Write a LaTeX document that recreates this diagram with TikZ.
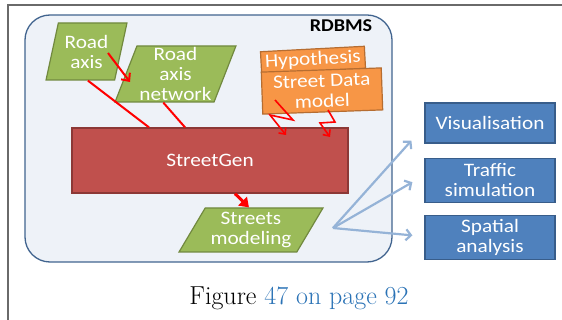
\documentclass[tikz,border=0pt]{standalone}
\usepackage{fontspec}
\setsansfont{Carlito}[FakeStretch=1.12]
\usetikzlibrary{shapes.geometric,arrows.meta,positioning,calc}
\definecolor{dbfill}{HTML}{EEF2F8}
\definecolor{dbline}{HTML}{41648F}
\definecolor{datagreen}{HTML}{9BBB59}
\definecolor{dataline}{HTML}{71893F}
\definecolor{genred}{HTML}{C0504D}
\definecolor{genline}{HTML}{8C3836}
\definecolor{hypor}{HTML}{F79646}
\definecolor{hypline}{HTML}{B66D31}
\definecolor{appblue}{HTML}{4F81BD}
\definecolor{appline}{HTML}{385D8A}
\definecolor{fanblue}{HTML}{95B3D7}
\definecolor{linkblue}{HTML}{2B73B6}
\definecolor{framegray}{HTML}{6A6A6A}

\begin{document}
\begin{tikzpicture}[x=1pt,y=-1pt,
    font=\sffamily\fontsize{19}{20}\selectfont,
    dbbox/.style={draw=dbline,fill=dbfill,line width=1.3pt,rounded corners=25pt},
    data/.style={trapezium,trapezium stretches=true,draw=dataline,fill=datagreen,line width=1.2pt,text=white,align=center,inner sep=0pt},
    gen/.style={draw=genline,fill=genred,line width=1.2pt,text=white},
    hyp/.style={draw=hypline,fill=hypor,line width=1.2pt,text=white,align=center,inner sep=0pt},
    app/.style={draw=appline,fill=appblue,line width=1.2pt,text=white,align=center,minimum width=130pt,inner sep=0pt},
    redline/.style={red,line width=2pt},
    zig/.style={red,line width=1.6pt,-{Straight Barb[length=5pt,width=9pt]}},
    fanarr/.style={fanblue,line width=2.2pt,-{Straight Barb[length=5pt,width=11pt]}}]
    \useasboundingbox (0,0) rectangle (562,320);
    \draw[framegray,line width=1.5pt] (8,320) -- (8,5) -- (562,5);
    \node[dbbox,minimum width=367pt,minimum height=247pt] (db) at (208.5,138.5) {};
    \node[font=\sffamily\bfseries\fontsize{18}{18}\selectfont] (dblabel) at (341,26) {RDBMS};
    % sources
    \node[data,trapezium left angle=74,trapezium right angle=106,minimum width=81pt,minimum height=57pt] (raxis) at (86.5,51.5) {Road\\axis};
    \node[data,trapezium left angle=69,trapezium right angle=111,minimum width=121pt,minimum height=56pt] (net) at (175.5,74) {Road\\axis\\network};
    \node[hyp,rotate=3,minimum width=104pt,minimum height=22pt] (hyp) at (313,60) {Hypothesis};
    \node[hyp,rotate=2,minimum width=120pt,minimum height=42pt] (sdm) at (322,91) {Street Data\\model};
    \node[gen,minimum width=276pt,minimum height=65pt] (gen) at (210,160.5) {StreetGen};
    \node[data,trapezium left angle=57,trapezium right angle=123,minimum width=144pt,minimum height=44pt] (streets) at (251,230) {Streets\\modeling};
    % applications
    \node[app,minimum height=40pt] (vis) at (490,123) {Visualisation};
    \node[app,minimum height=44pt,below=14pt of vis] (traffic) {Traffic\\simulation};
    \node[app,minimum height=44pt,below=12pt of traffic] (spatial) {Spatial\\analysis};
    % flows
    \draw[redline] ($(raxis.bottom left corner)!0.61!(raxis.bottom right corner)$) -- ($(gen.north west)!0.28!(gen.north east)$);
    \draw[redline] ($(net.bottom left corner)!0.49!(net.bottom right corner)$) -- ($(gen.north west)!0.41!(gen.north east)$);
    \coordinate (ra) at ($(raxis.center)+(21.5,1.5)$);
    \coordinate (nt) at ($(net.center)+(-45.5,8)$);
    \draw[redline,-{Straight Barb[length=6pt,width=11pt]}] (ra) -- (nt);
    \coordinate (z1) at (275,100);
    \coordinate (z2) at (328,110);
    \draw[zig] (z1) -- ++(18,20) -- ++(-23,-5) -- ++(16,20);
    \draw[zig] (z2) -- ++(7,12) -- ++(-15,1) -- ++(10,14);
    \draw[red,line width=3pt,-{Triangle[length=9pt,width=12pt]}] ($(gen.south west)!0.59!(gen.south east)$) -- ($(streets.top left corner)!0.37!(streets.top right corner)$);
    \coordinate (fan) at (333,228);
    \draw[fanarr] (fan) -- ($(vis.south west)+(-13,-3)$);
    \draw[fanarr] (fan) -- ($(traffic.west)+(-12,2)$);
    \draw[fanarr] (fan) -- ($(spatial.west)+(-12,-2)$);
    \node[font=\rmfamily\fontsize{26}{30}\selectfont] (cap) at (299,298) {Figure \textcolor{linkblue}{47 on page 92}};
\end{tikzpicture}
\end{document}
